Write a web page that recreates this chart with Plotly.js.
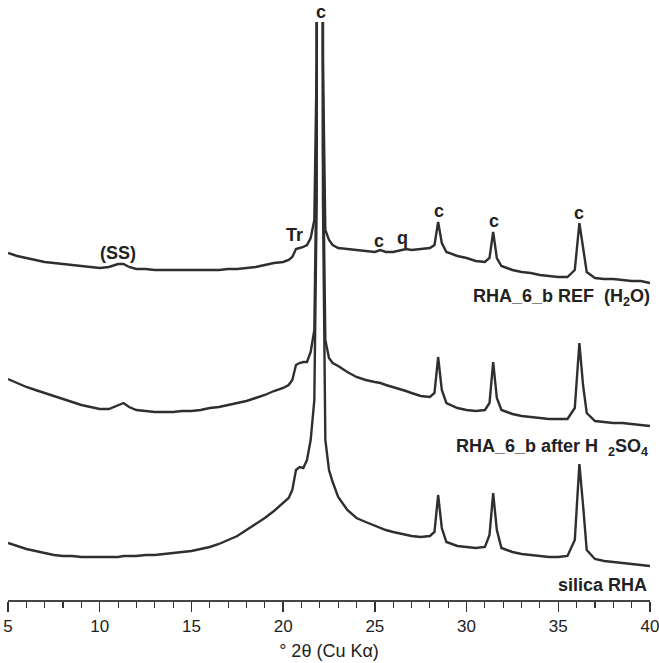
<!DOCTYPE html>
<html>
<head>
<meta charset="utf-8">
<script src="https://cdn.plot.ly/plotly-3.0.1.min.js"></script>
<style>
  html, body { margin: 0; padding: 0; background: #fff; }
  #chart { width: 659px; height: 663px; }
</style>
</head>
<body>
<div id="chart"></div>
<script>
// 2-theta positions (degrees, Cu K-alpha)
const twoTheta = [5, 5.5, 6, 6.5, 7, 7.5, 8, 8.5, 9, 9.5, 10, 10.5, 11, 11.3, 11.6, 12, 12.5, 13, 13.5, 14,
  14.5, 15, 15.5, 16, 16.5, 17, 17.5, 18, 18.5, 19, 19.5, 20, 20.3, 20.5, 20.7, 20.9, 21.1, 21.3, 21.5, 21.7,
  21.83, 22.0, 22.17, 22.3, 22.5, 22.7, 23, 23.5, 24, 24.5, 25, 25.3, 25.6, 26, 26.5, 26.7, 27, 27.5, 28, 28.25,
  28.45, 28.65, 28.9, 29.5, 30, 30.5, 31, 31.25, 31.45, 31.65, 31.9, 32.5, 33, 33.5, 34, 34.5, 35, 35.5, 35.9, 36.15,
  36.35, 36.55, 37, 37.5, 38, 38.5, 39, 39.5, 40];

// Intensities (a.u., stacked with offsets as in the figure)
const refH2O = [347, 344, 342, 340, 338, 337, 336, 335, 334, 333, 332, 333, 336, 336, 333, 331, 331, 330, 330, 330,
  330, 330, 330, 330, 330, 331, 331, 332, 333, 335, 337, 338, 340, 343, 351, 352, 353, 355, 362, 380,
  540, 5000, 540, 370, 360, 355, 352, 351, 350, 349, 348, 350, 348, 348, 350, 351, 350, 351, 352, 355,
  378, 357, 348, 344, 342, 339, 338, 342, 368, 342, 334, 330, 328, 327, 325, 324, 323, 323, 330, 377,
  352, 328, 322, 321, 321, 320, 319, 319, 317];

const afterH2SO4 = [221, 217, 213, 210, 207, 204, 201, 198, 195, 193, 191, 191, 195, 197, 193, 190, 189, 188, 188, 188,
  189, 189, 190, 192, 193, 195, 197, 199, 202, 205, 209, 212, 215, 220, 235, 237, 238, 238, 248, 270,
  450, 5000, 450, 260, 242, 237, 234, 228, 223, 220, 218, 217, 215, 213, 210, 209, 207, 204, 203, 207,
  243, 210, 197, 192, 190, 189, 190, 197, 238, 202, 190, 186, 184, 183, 182, 181, 181, 181, 192, 257,
  215, 187, 179, 178, 177, 177, 176, 175, 174];

const silicaRHA = [57, 54, 51, 49, 47, 45, 44, 44, 43, 43, 43, 43, 43, 44, 44, 44, 45, 45, 46, 47,
  48, 49, 51, 53, 56, 60, 64, 70, 76, 82, 89, 97, 102, 110, 130, 133, 132, 140, 160, 200,
  400, 5000, 400, 160, 130, 118, 103, 90, 82, 78, 74, 72, 70, 68, 66, 65, 64, 63, 64, 68,
  105, 72, 58, 54, 53, 52, 53, 65, 107, 70, 52, 48, 46, 45, 44, 43, 43, 44, 60, 136,
  95, 50, 41, 39, 38, 37, 36, 35, 34];

const seriesNames = ['RHA_6_b REF (H2O)', 'RHA_6_b after H2SO4', 'silica RHA'];
const tickVals = [5, 10, 15, 20, 25, 30, 35, 40];

const lineStyle = {color: '#2f2f2f', width: 2.4};
const traces = [refH2O, afterH2SO4, silicaRHA].map((y, i) => ({
  x: twoTheta, y: y, type: 'scatter', mode: 'lines', name: seriesNames[i],
  line: lineStyle, hoverinfo: 'skip'
}));

const lblFont = {family: 'Liberation Sans, Arial, sans-serif', size: 18, color: '#222'};
function ann(x, y, text, xanchor, xshift, yref) {
  return {x: x, y: y, xref: 'x', yref: yref || 'y', text: text, showarrow: false,
          xanchor: xanchor || 'center', yanchor: 'middle', xshift: xshift || 0, font: lblFont};
}

const layout = {
  width: 659, height: 663,
  margin: {l: 8, r: 9, t: 22, b: 63},
  paper_bgcolor: '#fff', plot_bgcolor: '#fff',
  showlegend: false,
  xaxis: {
    range: [5, 40], tickvals: tickVals, ticktext: tickVals.map(String),
    ticks: 'outside', ticklen: 10, tickwidth: 1.3, tickcolor: '#333',
    minor: {dtick: 1, ticks: 'outside', ticklen: 6, tickwidth: 1.1, tickcolor: '#333'},
    showline: true, linecolor: '#444', linewidth: 1.5,
    showgrid: false, zeroline: false,
    ticklabeloverflow: 'allow',
    tickfont: {family: 'Liberation Sans, Arial, sans-serif', size: 17, color: '#222'},
    title: {text: '° 2θ (Cu Kα)', standoff: 9,
            font: {family: 'Liberation Sans, Arial, sans-serif', size: 18, color: '#222'}},
    automargin: false
  },
  yaxis: {range: [0, 578], visible: false, fixedrange: true},
  annotations: [
    ann(11.0, 347, '<b>(SS)</b>'),
    ann(20.6, 365, '<b>Tr</b>'),
    ann(22.05, 1.0173, '<b>c</b>', 'center', 0, 'paper'),
    ann(25.2, 359, '<b>c</b>'),
    ann(26.5, 362, '<b>q</b>'),
    ann(28.5, 389, '<b>c</b>'),
    ann(31.5, 379, '<b>c</b>'),
    ann(36.13, 387, '<b>c</b>'),
    ann(40, 303, '<b>RHA_6_b REF\u00a0 (H<sub>2</sub>O)</b>', 'right', 2),
    ann(40, 153, '<b>RHA_6_b after H\u00a0\u00a0<sub>2</sub>SO<sub>4</sub></b>', 'right', 0),
    ann(40, 15, '<b>silica RHA</b>', 'right', -1)
  ]
};

Plotly.newPlot('chart', traces, layout, {displayModeBar: false, staticPlot: true});
</script>
</body>
</html>
